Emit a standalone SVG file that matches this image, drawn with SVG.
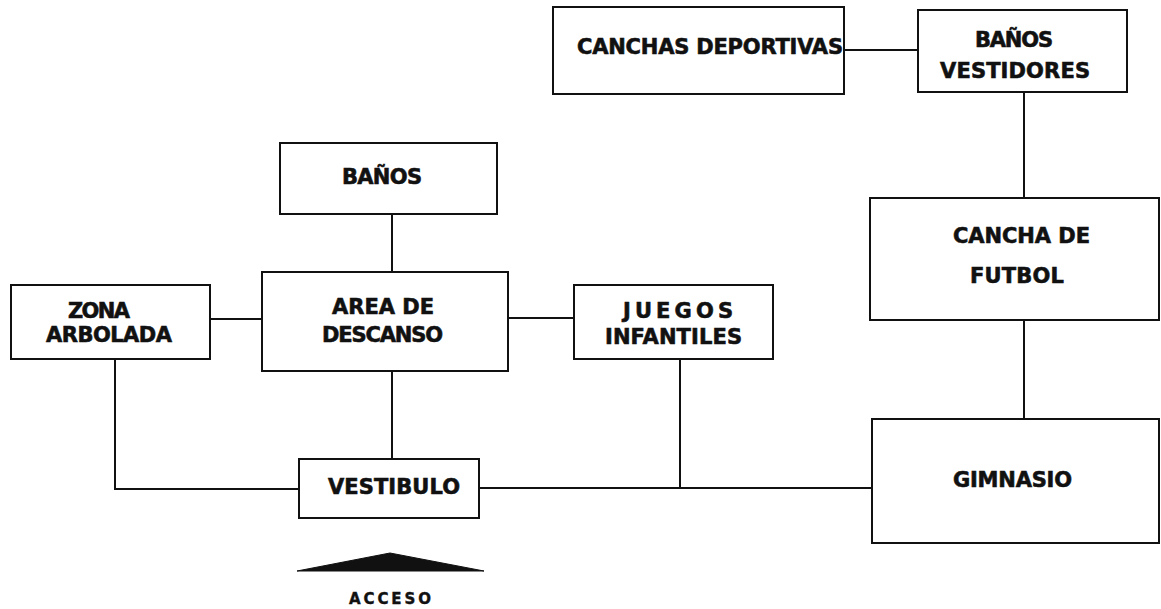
<svg xmlns="http://www.w3.org/2000/svg" width="1161" height="609" viewBox="0 0 1161 609">
<style>
.box{fill:#fff;stroke:#111;stroke-width:2}
.ln{fill:none;stroke:#111;stroke-width:2}
.t{font-family:"DejaVu Sans","Liberation Sans",Arial,sans-serif;font-weight:bold;font-size:21px;fill:#111;stroke:#111;stroke-width:0.6}
.s{font-family:"DejaVu Sans","Liberation Sans",Arial,sans-serif;font-weight:bold;font-size:15px;fill:#111;stroke:#111;stroke-width:0.4}
</style>
<rect width="1161" height="609" fill="#fff"/>
<g id="connectors">
<line class="ln" x1="844" y1="50" x2="918" y2="50"/>
<line class="ln" x1="1024" y1="92" x2="1024" y2="198"/>
<line class="ln" x1="1024" y1="320" x2="1024" y2="419"/>
<line class="ln" x1="392" y1="214" x2="392" y2="272"/>
<line class="ln" x1="210" y1="319" x2="262" y2="319"/>
<line class="ln" x1="508" y1="318" x2="574" y2="318"/>
<line class="ln" x1="392" y1="371" x2="392" y2="459"/>
<polyline class="ln" points="115,359 115,489 299,489"/>
<line class="ln" x1="479" y1="488" x2="872" y2="488"/>
<line class="ln" x1="680" y1="359" x2="680" y2="488"/>
</g>
<g id="canchas-deportivas">
<rect class="box" x="553" y="7" width="291" height="87"/>
<text class="t" x="577" y="54" textLength="266" lengthAdjust="spacing">CANCHAS DEPORTIVAS</text>
</g>
<g id="banos-vestidores">
<rect class="box" x="918" y="10" width="209" height="82"/>
<text class="t" x="975" y="47" textLength="78" lengthAdjust="spacing">BAÑOS</text>
<text class="t" x="940" y="78" textLength="150" lengthAdjust="spacing">VESTIDORES</text>
</g>
<g id="cancha-futbol">
<rect class="box" x="870" y="198" width="289" height="122"/>
<text class="t" x="953" y="243" textLength="137" lengthAdjust="spacing">CANCHA DE</text>
<text class="t" x="970" y="283" textLength="94" lengthAdjust="spacing">FUTBOL</text>
</g>
<g id="gimnasio">
<rect class="box" x="872" y="419" width="287" height="124"/>
<text class="t" x="953" y="487" textLength="119" lengthAdjust="spacing">GIMNASIO</text>
</g>
<g id="banos">
<rect class="box" x="280" y="143" width="217" height="71"/>
<text class="t" x="342" y="184" textLength="80" lengthAdjust="spacing">BAÑOS</text>
</g>
<g id="area-descanso">
<rect class="box" x="262" y="272" width="246" height="99"/>
<text class="t" x="332" y="314" textLength="102" lengthAdjust="spacing">AREA DE</text>
<text class="t" x="322" y="342" textLength="121" lengthAdjust="spacing">DESCANSO</text>
</g>
<g id="zona-arbolada">
<rect class="box" x="11" y="285" width="199" height="74"/>
<text class="t" x="68" y="318" textLength="62" lengthAdjust="spacing">ZONA</text>
<text class="t" x="46" y="342" textLength="126" lengthAdjust="spacing">ARBOLADA</text>
</g>
<g id="juegos-infantiles">
<rect class="box" x="574" y="285" width="199" height="74"/>
<text class="t" x="623" y="318" textLength="110" lengthAdjust="spacing">JUEGOS</text>
<text class="t" x="605" y="344" textLength="137" lengthAdjust="spacing">INFANTILES</text>
</g>
<g id="vestibulo">
<rect class="box" x="299" y="459" width="180" height="59"/>
<text class="t" x="328" y="494" textLength="132" lengthAdjust="spacing">VESTIBULO</text>
</g>
<g id="acceso">
<polygon points="297,571 390,553 484,571" fill="#111" stroke="#111" stroke-width="1"/>
<text class="s" x="349" y="604" textLength="82" lengthAdjust="spacing">ACCESO</text>
</g>
</svg>
